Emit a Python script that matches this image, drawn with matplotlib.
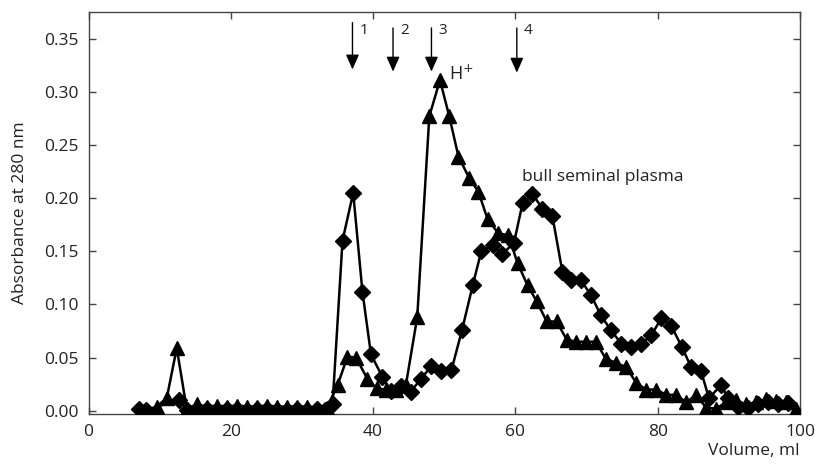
import matplotlib
matplotlib.use("Agg")
import matplotlib.pyplot as plt

# elution profile, triangles (H+ fraction)
vol_tri = [9.6, 11.0, 12.4, 13.8, 15.2, 16.6, 18.1, 19.5, 20.9, 22.3, 23.7, 25.1,
           26.5, 27.9, 29.3, 30.7, 32.1, 33.5, 35.0, 36.4, 37.6, 39.2, 40.5, 41.8,
           43.2, 44.6, 46.2, 47.9, 49.4, 50.7, 52.0, 53.5, 54.8, 56.1, 57.6, 59.0,
           60.3, 61.7, 63.0, 64.4, 65.8, 67.2, 68.5, 69.9, 71.3, 72.7, 74.2, 75.6,
           77.0, 78.4, 79.8, 81.2, 82.6, 84.0, 85.4, 86.8, 88.2, 89.6, 91.0, 92.4,
           93.8, 95.2, 96.6, 98.0, 99.5]
abs_tri = [0.004, 0.012, 0.059, 0.002, 0.006, 0.004, 0.005, 0.004, 0.005, 0.004, 0.004, 0.005,
           0.004, 0.004, 0.004, 0.004, 0.003, 0.003, 0.024, 0.051, 0.050, 0.030, 0.021, 0.020,
           0.020, 0.024, 0.088, 0.277, 0.311, 0.277, 0.239, 0.219, 0.206, 0.180, 0.167, 0.165,
           0.139, 0.118, 0.103, 0.084, 0.084, 0.067, 0.065, 0.065, 0.065, 0.049, 0.045, 0.041,
           0.026, 0.020, 0.020, 0.015, 0.015, 0.008, 0.015, 0.003, 0.002, 0.008, 0.010, 0.006,
           0.008, 0.011, 0.009, 0.008, 0.002]

# elution profile, diamonds (bull seminal plasma)
vol_dia = [7.1, 8.1, 12.7, 13.9, 15.3, 16.7, 18.1, 19.5, 20.9, 22.3, 23.7, 25.1,
           26.5, 27.9, 29.3, 30.7, 32.1, 33.2, 34.3, 35.7, 37.2, 38.5, 39.7, 41.3,
           42.5, 43.9, 45.3, 46.7, 48.2, 49.6, 51.0, 52.5, 54.0, 55.2, 56.8, 58.1,
           59.8, 61.0, 62.4, 63.8, 65.2, 66.6, 67.8, 69.2, 70.6, 72.0, 73.4, 74.9,
           76.3, 77.7, 79.1, 80.5, 81.9, 83.4, 84.7, 86.1, 87.2, 88.9, 89.9, 91.3,
           92.7, 94.1, 95.5, 96.9, 98.3]
abs_dia = [0.002, 0.001, 0.010, 0.001, 0.002, 0.002, 0.001, 0.002, 0.002, 0.001, 0.002, 0.002,
           0.001, 0.001, 0.002, 0.001, 0.002, 0.001, 0.006, 0.160, 0.205, 0.112, 0.053, 0.032,
           0.019, 0.023, 0.018, 0.030, 0.042, 0.037, 0.038, 0.076, 0.118, 0.150, 0.156, 0.147,
           0.158, 0.195, 0.204, 0.190, 0.183, 0.131, 0.123, 0.123, 0.109, 0.090, 0.076, 0.063,
           0.060, 0.063, 0.071, 0.087, 0.080, 0.060, 0.041, 0.037, 0.012, 0.024, 0.012, 0.004,
           0.003, 0.006, 0.008, 0.006, 0.007]

# fraction arrows: position, top, tip, label
arrow_x = [37.1, 42.8, 48.2, 60.2]
arrow_top = [0.365, 0.360, 0.360, 0.360]
arrow_tip = [0.321, 0.319, 0.319, 0.318]
arrow_lab = ["1", "2", "3", "4"]

plt.rcParams['font.family'] = ['Open Sans', 'DejaVu Sans']
grey = '#444444'
txt = '#222222'

fig = plt.figure(figsize=(8.15, 4.73), dpi=100)
ax = fig.add_axes([0.1086, 0.1247, 0.873, 0.8499])

ax.plot(vol_dia, abs_dia, color='k', lw=1.8, marker='D', ms=8, zorder=3)
ax.plot(vol_tri, abs_tri, color='k', lw=1.8, marker='^', ms=10, zorder=4)

for x, y0, y1, lab in zip(arrow_x, arrow_top, arrow_tip, arrow_lab):
    ax.annotate('', xy=(x, y1), xytext=(x, y0),
                arrowprops=dict(arrowstyle='-|>,head_length=0.9,head_width=0.4',
                                color='k', lw=1.0, shrinkA=0, shrinkB=0))
    ax.text(x + 1.0, 0.358, lab, fontsize=11, color=txt, va='center', ha='left')

ax.text(50.6, 0.317, 'H$^{+}$', fontsize=13, color=txt, va='center', ha='left')
ax.text(60.9, 0.220, 'bull seminal plasma', fontsize=12.5, color=txt,
        va='center', ha='left')

ax.set_xlim(0, 100)
ax.set_ylim(-0.003, 0.375)
ax.set_xticks([0, 20, 40, 60, 80, 100])
ax.set_yticks([0.0, 0.05, 0.10, 0.15, 0.20, 0.25, 0.30, 0.35])
ax.set_yticklabels(['0.00', '0.05', '0.10', '0.15', '0.20', '0.25', '0.30', '0.35'])
ax.tick_params(direction='in', length=5, width=1, colors=grey, labelcolor=txt,
               labelsize=12.5, top=True, right=True, pad=7)
for s in ax.spines.values():
    s.set_color(grey)
    s.set_linewidth(1.0)

ax.set_ylabel('Absorbance at 280 nm', fontsize=12.5, color=txt, labelpad=12)
ax.set_xlabel('Volume, ml', fontsize=12.5, color=txt, loc='right', labelpad=2)

fig.savefig('out.png', dpi=100)
